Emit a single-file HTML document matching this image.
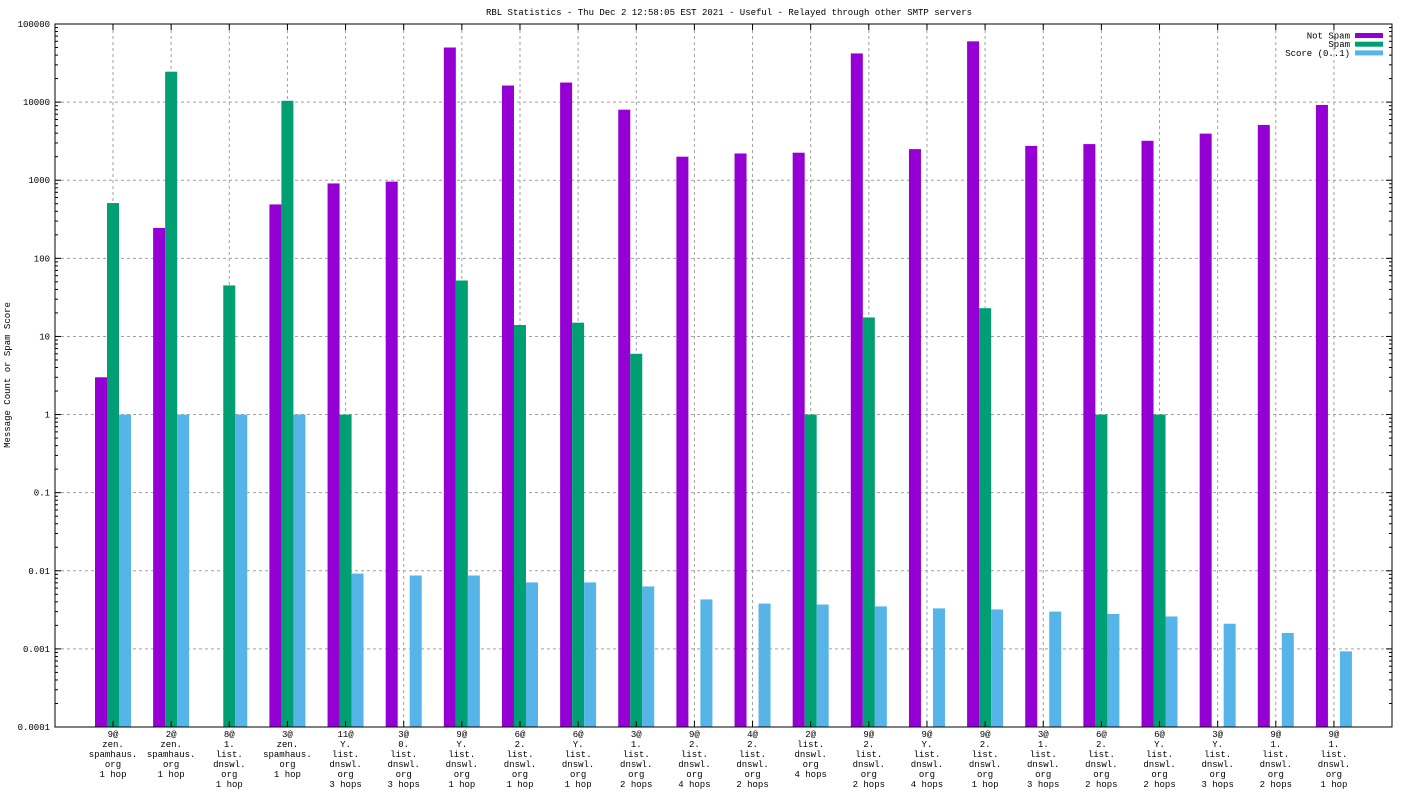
<!DOCTYPE html>
<html><head><meta charset="utf-8"><style>
body{margin:0;background:#fff;}
svg text{font-family:"Liberation Mono",monospace;font-size:9px;fill:#000;}
</style></head><body>
<svg id="chart" width="1408" height="792" xmlns="http://www.w3.org/2000/svg">
<text x="729" y="15" text-anchor="middle">RBL Statistics - Thu Dec  2 12:58:05 EST 2021 - Useful - Relayed through other SMTP servers</text>
<text transform="translate(10,375) rotate(-90)" text-anchor="middle">Message Count or Spam Score</text>
<g id="grid"></g><g id="bars"></g><g id="axes"></g><g id="legend"></g>
</svg>
<script>
const categories=[
["9@","zen.","spamhaus.","org","1 hop"],["2@","zen.","spamhaus.","org","1 hop"],["8@","1.","list.","dnswl.","org","1 hop"],["3@","zen.","spamhaus.","org","1 hop"],
["11@","Y.","list.","dnswl.","org","3 hops"],["3@","0.","list.","dnswl.","org","3 hops"],["9@","Y.","list.","dnswl.","org","1 hop"],["6@","2.","list.","dnswl.","org","1 hop"],
["6@","Y.","list.","dnswl.","org","1 hop"],["3@","1.","list.","dnswl.","org","2 hops"],["9@","2.","list.","dnswl.","org","4 hops"],["4@","2.","list.","dnswl.","org","2 hops"],
["2@","list.","dnswl.","org","4 hops"],["9@","2.","list.","dnswl.","org","2 hops"],["9@","Y.","list.","dnswl.","org","4 hops"],["9@","2.","list.","dnswl.","org","1 hop"],
["3@","1.","list.","dnswl.","org","3 hops"],["6@","2.","list.","dnswl.","org","2 hops"],["6@","Y.","list.","dnswl.","org","2 hops"],["3@","Y.","list.","dnswl.","org","3 hops"],
["9@","1.","list.","dnswl.","org","2 hops"],["9@","1.","list.","dnswl.","org","1 hop"]];
const notSpam=[3,245,0,490,910,960,50000,16300,17800,8000,2000,2200,2250,42000,2500,60000,2750,2900,3200,3950,5100,9200];
const spam=[510,24500,45,10400,1,0,52,14,15,6,0,0,1,17.5,0,23,0,1,1,0,0,0];
const score=[1,1,1,1,0.0092,0.0087,0.0087,0.0071,0.0071,0.0063,0.0043,0.0038,0.0037,0.0035,0.0033,0.0032,0.0030,0.0028,0.0026,0.0021,0.0016,0.00093];
const yTicks=["0.0001","0.001","0.01","0.1","1","10","100","1000","10000","100000"];
const seriesNames=["Not Spam","Spam","Score (0..1)"];
const colors=["#9400d3","#009e73","#56b4e9"];
const L=55,R=1392,T=24,B=727;
const y=v=>B-(Math.log10(v)+4)/9*(B-T);
const x=i=>113+i*58.14;
const NS="http://www.w3.org/2000/svg";
function mk(tag,attrs,parent){const e=document.createElementNS(NS,tag);for(const k in attrs)e.setAttribute(k,attrs[k]);parent.appendChild(e);return e;}
const grid=document.getElementById('grid'),bars=document.getElementById('bars'),axes=document.getElementById('axes'),leg=document.getElementById('legend');
yTicks.forEach((t,k)=>{const v=parseFloat(t),yy=y(v);
 if(k>0&&k<9){const g=mk('line',{x1:L,x2:R,y1:yy,y2:yy,stroke:'#a0a0a0','stroke-dasharray':'3,3'},grid);
 
 }
 const tx=mk('text',{x:L-5,y:yy+3,'text-anchor':'end'},axes);tx.textContent=t;
 
 
 mk('line',{x1:L,x2:L+6,y1:yy,y2:yy,stroke:'#000'},axes);mk('line',{x1:R,x2:R-6,y1:yy,y2:yy,stroke:'#000'},axes);
 if(k<9)for(let m=2;m<10;m++){const ym=y(v*m);mk('line',{x1:L,x2:L+3,y1:ym,y2:ym,stroke:'#000'},axes);mk('line',{x1:R,x2:R-3,y1:ym,y2:ym,stroke:'#000'},axes);}
});
categories.forEach((c,i)=>{const cx=x(i);
 const g=mk('line',{x1:cx,x2:cx,y1:T,y2:B,stroke:'#a0a0a0','stroke-dasharray':'3,3'},grid);
 
 
 mk('line',{x1:cx,x2:cx,y1:B,y2:B-6,stroke:'#000'},axes);mk('line',{x1:cx,x2:cx,y1:T,y2:T+6,stroke:'#000'},axes);
 [notSpam,spam,score].forEach((s,j)=>{const v=s[i];if(!v)return;
  const r=mk('rect',{x:cx-18+j*12,width:12,y:y(v),height:B-y(v),fill:colors[j]},bars);
  
  });
 const t=mk('text',{x:cx,y:B+10,'text-anchor':'middle'},axes);
 
 
 c.forEach((ln,k)=>{const ts=mk('tspan',{x:cx,dy:k?10:0},t);ts.textContent=ln;});
});
const frame=mk('rect',{x:L,y:T,width:R-L,height:B-T,fill:'none',stroke:'#000'},axes);


seriesNames.forEach((n,j)=>{const yy=35.5+j*8.7;
 const t=mk('text',{x:1350,y:yy+3,'text-anchor':'end'},leg);t.textContent=n;
 
 
 const r=mk('rect',{x:1355,y:yy-2.5,width:28,height:5,fill:colors[j]},leg);
 
 });
</script>
</body></html>
